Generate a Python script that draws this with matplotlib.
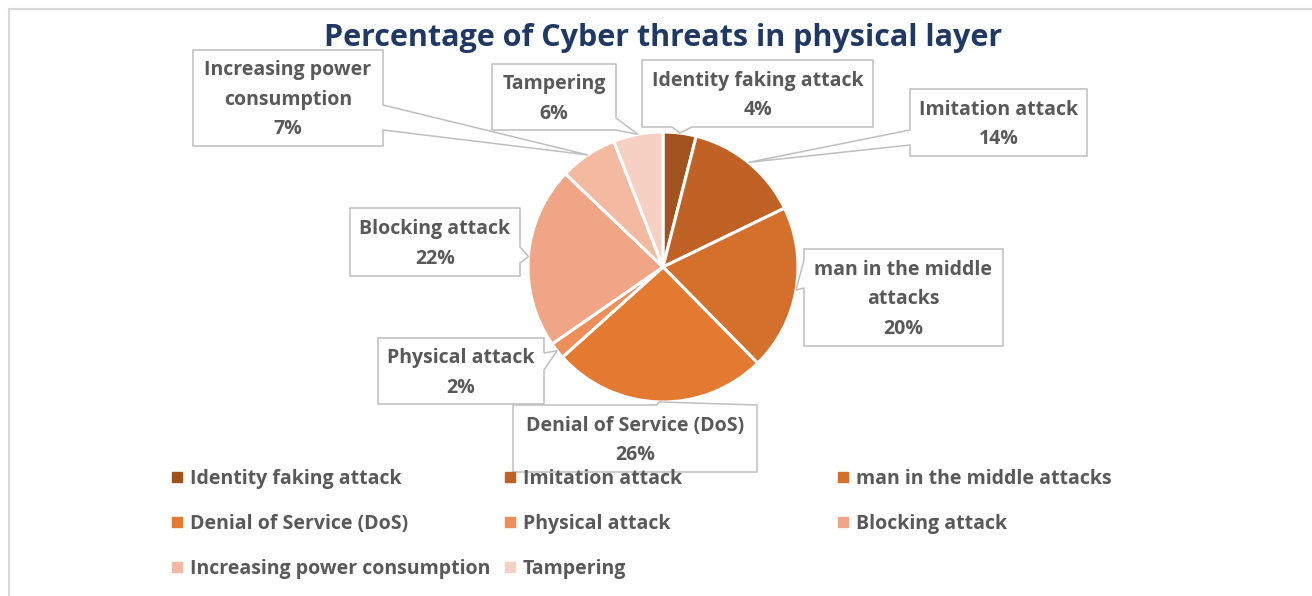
import matplotlib.pyplot as plt
from matplotlib.patches import Polygon
import numpy as np

# Threat shares (percent), clockwise from 12 o'clock
categories = ['Identity faking attack', 'Imitation attack', 'man in the middle attacks',
              'Denial of Service (DoS)', 'Physical attack', 'Blocking attack',
              'Increasing power consumption', 'Tampering']
values = [4, 14, 20, 26, 2, 22, 7, 6]
colors = ['#A0521F', '#C06226', '#D4702C', '#E47A31',
          '#EE8F5B', '#F0A587', '#F3BAA1', '#F6D0C3']

# label text as wrapped inside the callouts
callout_names = ['Identity faking attack', 'Imitation attack', 'man in the middle\nattacks',
                 'Denial of Service (DoS)', 'Physical attack', 'Blocking attack',
                 'Increasing power\nconsumption', 'Tampering']

# callout boxes in pixels: (x0, y0, x1, y1), side carrying the pointer, pointer base
boxes = [(642, 60, 873, 127), (910, 89, 1087, 156), (804, 249, 1003, 346),
         (513, 405, 757, 472), (378, 338, 544, 404), (350, 208, 520, 276),
         (193, 50, 383, 146), (492, 64, 616, 130)]
sides = ['bottom', 'left', 'left', 'top', 'right', 'right', 'right', 'right']
bases = [(672, 692), (130, 145), (260, 288), (657, 757),
         (353, 370), (247, 263), (105, 130), (118, 130)]

W, H = 1312, 596
cx, cy, R = 663, 267, 135
font = 'Open Sans'
grey = '#595959'
fs = 14
dy = 2  # nudge so glyphs sit on the visual centre line

fig = plt.figure(figsize=(W / 100, H / 100), dpi=100)
ax = fig.add_axes([0, 0, 1, 1])

# y axis runs downwards, so startangle=-90 with counterclock=True goes clockwise from the top
wedges, _ = ax.pie(values, colors=colors, startangle=-90, counterclock=True,
                   center=(cx, cy), radius=R, frame=False,
                   wedgeprops=dict(edgecolor='white', linewidth=2.2))
ax.set_xlim(0, W)
ax.set_ylim(H, 0)
ax.axis('off')


def callout_poly(box, side, base, tip):
    x0, y0, x1, y1 = box
    b0, b1 = base
    pts = [(x0, y0)]
    if side == 'top':
        pts += [(b0, y0), tip, (b1, y0)]
    pts.append((x1, y0))
    if side == 'right':
        pts += [(x1, b0), tip, (x1, b1)]
    pts.append((x1, y1))
    if side == 'bottom':
        pts += [(b1, y1), tip, (b0, y1)]
    pts.append((x0, y1))
    if side == 'left':
        pts += [(x0, b1), tip, (x0, b0)]
    return pts


for w, name, val, box, side, base in zip(wedges, callout_names, values, boxes, sides, bases):
    mid = np.deg2rad((w.theta1 + w.theta2) / 2)
    tip = (cx + R * np.cos(mid), cy + R * np.sin(mid))
    ax.add_patch(Polygon(callout_poly(box, side, base, tip), closed=True,
                         facecolor='white', edgecolor='#BFBFBF', linewidth=1.1, zorder=3))
    lines = name.split('\n') + ['%d%%' % val]
    bx = (box[0] + box[2]) / 2
    by = (box[1] + box[3]) / 2
    pitch = 29.5
    for i, line in enumerate(lines):
        y = by + (i - (len(lines) - 1) / 2) * pitch + dy
        ax.text(bx, y, line, ha='center', va='center', fontsize=fs, fontweight='bold',
                family=font, color=grey, zorder=4)

# legend, three columns
col_x = [177, 510, 843]
row_y = [477, 522, 567]
for i, (cat, c) in enumerate(zip(categories, colors)):
    x = col_x[i % 3]
    y = row_y[i // 3]
    ax.plot(x, y, 's', ms=6.5, color=c, zorder=5)
    ax.text(x + 13, y + dy, cat, ha='left', va='center', fontsize=fs, fontweight='bold',
            family=font, color=grey, zorder=5)

ax.text(663, 38, 'Percentage of Cyber threats in physical layer', ha='center', va='center',
        fontsize=22, fontweight='bold', family=font, color='#1F3864')

# chart area border
ax.plot([8.5, 8.5], [H, 8.5], color='#D9D9D9', lw=1.5, zorder=1)
ax.plot([8.5, W], [8.5, 8.5], color='#D9D9D9', lw=1.5, zorder=1)

fig.savefig('out.png', dpi=100)
